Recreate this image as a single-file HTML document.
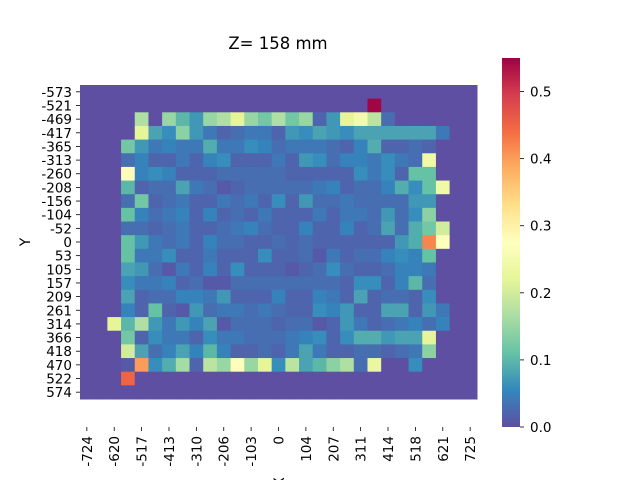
<!DOCTYPE html>
<html><head><meta charset="utf-8"><style>
body{margin:0;background:#fff}
svg{display:block;font-family:"DejaVu Sans","Liberation Sans",sans-serif}
</style></head><body>
<svg id="chart" width="640" height="480" xmlns="http://www.w3.org/2000/svg">
<rect width="640" height="480" fill="#fff"/>
<text x="278" y="49" font-size="16.5" text-anchor="middle">Z= 158 mm</text>
<g id="cells"></g>
<g id="xt"></g>
<g id="yt"></g>
<text transform="translate(30,242) rotate(-90)" font-size="13.9" text-anchor="middle">Y</text>
<text transform="translate(284,482) rotate(-90)" font-size="13.9" text-anchor="middle">X</text>
<defs><linearGradient id="cg" x1="0" y1="1" x2="0" y2="0"></linearGradient></defs>
<rect x="502" y="58" width="18" height="369" fill="url(#cg)"/>
<g id="ct"></g>
</svg>
<script>
const xLabels=["-724","-620","-517","-413","-310","-206","-103","0","104","207","311","414","518","621","725"];
const yLabels=["-573","-521","-469","-417","-365","-313","-260","-208","-156","-104","-52","0","53","105","157","209","261","314","366","418","470","522","574"];
const cbTicks=[0,0.1,0.2,0.3,0.4,0.5];
const vmax=0.55;
const Z=[0,0,0,0,0,0,0,0,0,0,0,0,0,0,0,0,0,0,0,0,0,0,0,0,0,0,0,0,0];
const row0=Z.slice();
const row1=Z.slice(); row1[21]=0.546;
const row2=[0,0,0,0,0.17,0,0.15,0.1,0.07,0.15,0.17,0.22,0.15,0.12,0.17,0.12,0.15,0.02,0.07,0.22,0.25,0.18,0.03,0,0,0,0,0,0];
const row3=[0,0,0,0,0.22,0.08,0.06,0.14,0.07,0.04,0.02,0.03,0.04,0.04,0.02,0.07,0.06,0.08,0.07,0.06,0.08,0.08,0.08,0.08,0.08,0.08,0.04,0,0];
const row4=[0,0,0,0.12,0.07,0.04,0.05,0.04,0.04,0.09,0.04,0.04,0.06,0.05,0.03,0.04,0.04,0.04,0.03,0.02,0.05,0.09,0.02,0.02,0.03,0.02,0,0,0];
const row5=[0,0,0,0.03,0.05,0.02,0.02,0.04,0.02,0.05,0.06,0.02,0.02,0.02,0.04,0.02,0.07,0.06,0.03,0.05,0.05,0.04,0.06,0.04,0.03,0.24,0,0,0];
const row6=[0,0,0,0.28,0.05,0.06,0.05,0.02,0.02,0.02,0.03,0.03,0.03,0.03,0.03,0.02,0.02,0.02,0.02,0.02,0.06,0.04,0.06,0.02,0.11,0.11,0,0,0];
const row7=[0,0,0,0.1,0.02,0.03,0.03,0.08,0.04,0.03,0.01,0.02,0.03,0.03,0.03,0.03,0.03,0.04,0.05,0.02,0.03,0.03,0.05,0.09,0.06,0.11,0.24,0,0];
const row8=[0,0,0,0.03,0.12,0.02,0.03,0.04,0.02,0.02,0.04,0.03,0.04,0.02,0.06,0.02,0.07,0.03,0.03,0.04,0.03,0.03,0.03,0.03,0.07,0.07,0,0,0];
const row9=[0,0,0,0.11,0.05,0.03,0.04,0.05,0.02,0.05,0.02,0.03,0.02,0.04,0.02,0.02,0.02,0.04,0.02,0.04,0.04,0.03,0.07,0.03,0.06,0.14,0,0,0];
const row10=[0,0,0,0.03,0.03,0.02,0.03,0.04,0.02,0.02,0.03,0.04,0.05,0.03,0.02,0.02,0.05,0.02,0.02,0.05,0.02,0.03,0.08,0.03,0.09,0.12,0.2,0,0];
const row11=[0,0,0,0.11,0.07,0.04,0.03,0.04,0.02,0.05,0.03,0.03,0.02,0.02,0.03,0.02,0.03,0.02,0.02,0.02,0.02,0.02,0.02,0.07,0.09,0.42,0.27,0,0];
const row12=[0,0,0,0.11,0.04,0.04,0.06,0.02,0.02,0.04,0.02,0.02,0.02,0.06,0.02,0.02,0.03,0.01,0.04,0.02,0.03,0.03,0.05,0.06,0.05,0.11,0,0,0];
const row13=[0,0,0,0.08,0.07,0.03,0.01,0.04,0.02,0.05,0.02,0.06,0.02,0.02,0.02,0.01,0.02,0.03,0.06,0.03,0.02,0.02,0.03,0.05,0.05,0.04,0,0,0];
const row14=[0,0,0,0.06,0.04,0.04,0.05,0.02,0.03,0.01,0.01,0.03,0.03,0.03,0.03,0.03,0.03,0.03,0.03,0.02,0.06,0.06,0.02,0.05,0.1,0.03,0,0,0];
const row15=[0,0,0,0.08,0.02,0.03,0.03,0.05,0.05,0.04,0.07,0.02,0.02,0.02,0.05,0.02,0.02,0.05,0.04,0.02,0.08,0.02,0.03,0.03,0.02,0.06,0,0,0];
const row16=[0,0,0,0.05,0.02,0.11,0.02,0.01,0.07,0.03,0.04,0.04,0.03,0.04,0.03,0.02,0.02,0.06,0.05,0.07,0.02,0.02,0.08,0.08,0.02,0.07,0.04,0,0];
const row17=[0,0,0.22,0.1,0.17,0.07,0.04,0.07,0.05,0.08,0.01,0.03,0.03,0.03,0.02,0.03,0.03,0.01,0.02,0.07,0.04,0.02,0.03,0.04,0.05,0.03,0.05,0,0];
const row18=[0,0,0,0.12,0.02,0.06,0.04,0.04,0.02,0.06,0.04,0.04,0.03,0.03,0.03,0.04,0.05,0.06,0.02,0.06,0.09,0.09,0.07,0.08,0.08,0.22,0,0,0];
const row19=[0,0,0,0.2,0.08,0.03,0.05,0.08,0.05,0.1,0.05,0.02,0.02,0.03,0.02,0.04,0.08,0.04,0.02,0.02,0.03,0.03,0.02,0.03,0.04,0.14,0,0,0];
const row20=[0,0,0,0.01,0.4,0.06,0.09,0.16,0.02,0.18,0.15,0.27,0.15,0.22,0.06,0.18,0.08,0.1,0.14,0.17,0.03,0.23,0,0,0.06,0,0,0,0];
const row21=Z.slice(); row21[3]=0.45;
const row22=Z.slice();
const rows=[row0,row1,row2,row3,row4,row5,row6,row7,row8,row9,row10,row11,row12,row13,row14,row15,row16,row17,row18,row19,row20,row21,row22];

const NS="http://www.w3.org/2000/svg";
const spec=["#5e4fa2","#3288bd","#66c2a5","#abdda4","#e6f598","#ffffbf","#fee08b","#fdae61","#f46d43","#d53e4f","#9e0142"];
function hex(h){return [1,3,5].map(i=>parseInt(h.substr(i,2),16));}
function cmap(v){let t=Math.max(0,Math.min(1,v/vmax))*10;let i=Math.min(9,Math.floor(t));let f=t-i;
 const a=hex(spec[i]),b=hex(spec[i+1]);return "rgb("+a.map((x,k)=>Math.round(x+(b[k]-x)*f)).join(",")+")";}
const X0=80,Y0=85,W=397,H=314,nc=29,nr=23,cw=W/nc,ch=H/nr;
function xs(c){return X0+c*cw;}
function ys(r){return Y0+r*ch;}
const g=document.getElementById("cells");
rows.forEach((row,r)=>row.forEach((v,c)=>{
 const e=document.createElementNS(NS,"rect");
 
 
 e.setAttribute("x",xs(c));e.setAttribute("y",ys(r));
 e.setAttribute("width",cw+0.5);e.setAttribute("height",ch+0.5);
 e.setAttribute("fill",cmap(v));g.appendChild(e);}));
const xt=document.getElementById("xt");
xLabels.forEach((l,i)=>{const x=xs(i*2+0.5);
 const t=document.createElementNS(NS,"line");
 
 
 t.setAttribute("x1",x);t.setAttribute("x2",x);t.setAttribute("y1",427);t.setAttribute("y2",431);t.setAttribute("stroke","#000");t.setAttribute("stroke-width","0.8");xt.appendChild(t);
 const s=document.createElementNS(NS,"text");
 
 
 s.setAttribute("transform","translate("+(x+5)+",436) rotate(-90)");s.setAttribute("text-anchor","end");s.setAttribute("font-size","13.5");s.textContent=l;xt.appendChild(s);});
const yt=document.getElementById("yt");
yLabels.forEach((l,i)=>{const y=ys(i+0.5);
 const t=document.createElementNS(NS,"line");
 
 
 t.setAttribute("x1",76);t.setAttribute("x2",80);t.setAttribute("y1",y);t.setAttribute("y2",y);t.setAttribute("stroke","#000");t.setAttribute("stroke-width","0.8");yt.appendChild(t);
 const s=document.createElementNS(NS,"text");
 
 
 s.setAttribute("x",72);s.setAttribute("y",y+5);s.setAttribute("text-anchor","end");s.setAttribute("font-size","13.5");s.textContent=l;yt.appendChild(s);});
const cg=document.getElementById("cg");
spec.forEach((c,i)=>{const st=document.createElementNS(NS,"stop");st.setAttribute("offset",i/10);st.setAttribute("stop-color",c);cg.appendChild(st);});
const ct=document.getElementById("ct");
function cy(v){return 427-v/vmax*369;}
cbTicks.forEach(v=>{const y=cy(v);
 const t=document.createElementNS(NS,"line");
 
 
 t.setAttribute("x1",520);t.setAttribute("x2",524);t.setAttribute("y1",y);t.setAttribute("y2",y);t.setAttribute("stroke","#000");t.setAttribute("stroke-width","0.8");ct.appendChild(t);
 const s=document.createElementNS(NS,"text");
 
 
 s.setAttribute("x",530);s.setAttribute("y",y+5);s.setAttribute("font-size","13.5");s.textContent=v.toFixed(1);ct.appendChild(s);});
</script>
</body></html>
